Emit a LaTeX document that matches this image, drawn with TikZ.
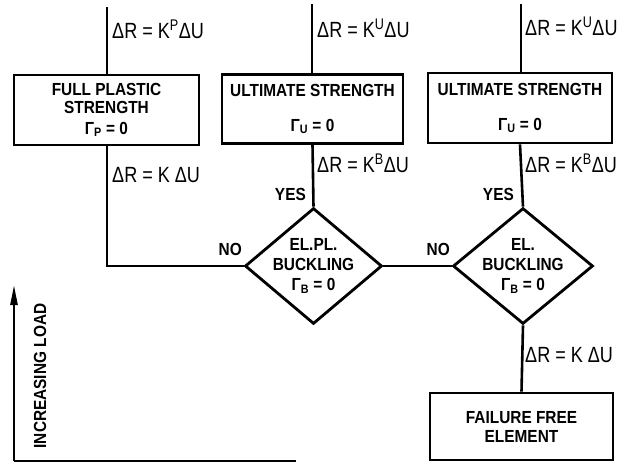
\documentclass[tikz,border=0pt]{standalone}
\usepackage{fontspec}
\setmainfont{Liberation Sans}[FakeStretch=0.88]
\newfontfamily\eqfont{Liberation Sans}[FakeStretch=0.82]
\usetikzlibrary{shapes.geometric,arrows.meta}
\tikzset{
	box/.style={draw, line width=2.8pt, rectangle, align=center, inner sep=0pt, font=\bfseries\fontsize{17.5}{18}\selectfont},
	test/.style={draw, line width=2.8pt, diamond, align=center, inner sep=-5pt, font=\bfseries\fontsize{17.5}{20}\selectfont},
	eqn/.style={anchor=base west, inner sep=0pt, font=\eqfont\fontsize{22}{22}\selectfont},
	ans/.style={anchor=base east, inner sep=0pt, font=\bfseries\fontsize{17.5}{18}\selectfont},
	flow/.style={line width=2.6pt}
}
\begin{document}
\begin{tikzpicture}[x=1pt, y=-1pt]
			\useasboundingbox (0,0) rectangle (629,463);
			\node[box, minimum width=185pt, minimum height=70pt](fps) at (106.5,110){FULL PLASTIC\\STRENGTH\\[3pt]Γ\textsubscript{P} = 0};
			\node[box, minimum width=181pt, minimum height=69pt](us1) at (312.5,109){ULTIMATE STRENGTH\\[17pt]Γ\textsubscript{U} = 0};
			\node[box, minimum width=184pt, minimum height=70pt](us2) at (520,108){ULTIMATE STRENGTH\\[17pt]Γ\textsubscript{U} = 0};
			\node[test, minimum width=137pt, minimum height=114pt](epb) at (313.5,266){EL.PL.\\BUCKLING\\Γ\textsubscript{B} = 0};
			\node[test, minimum width=140pt, minimum height=115pt](eb) at (523,266){EL.\\BUCKLING\\Γ\textsubscript{B} = 0};
			\node[box, minimum width=183pt, minimum height=67pt, font=\bfseries\fontsize{17.5}{19}\selectfont](ffe) at (521.5,426.5){FAILURE FREE\\ELEMENT};
			\coordinate (inA) at (107,7);
			\coordinate (inB) at (312,4);
			\coordinate (inC) at (521,4);
			\draw[flow] (inA) -- (inA |- fps.north);
			\draw[flow] (inB) -- (inB |- us1.north);
			\draw[flow] (inC) -- (inC |- us2.north);
			\draw[flow] (inA |- fps.south) |- (epb.west);
			\draw[flow] (us1.south) -- (epb.north);
			\draw[flow] (epb.east) -- (eb.west);
			\draw[flow] (us2.south) -- (eb.north);
			\draw[flow] (eb.south) -- (ffe.north);
			\node[eqn](eqA) at (112,38){ΔR = K\textsuperscript{P}ΔU};
			\node[eqn](eqB) at (317,37){ΔR = K\textsuperscript{U}ΔU};
			\node[eqn](eqC) at (525,35){ΔR = K\textsuperscript{U}ΔU};
			\node[eqn](eqD) at (112,182){ΔR = K ΔU};
			\node[eqn](eqE) at (317,172){ΔR = K\textsuperscript{B}ΔU};
			\node[eqn](eqF) at (525,172){ΔR = K\textsuperscript{B}ΔU};
			\node[eqn](eqG) at (525,362){ΔR = K ΔU};
			\node[ans](yesB) at (306,200){YES};
			\node[ans](yesC) at (514,200){YES};
			\node[ans](noB) at (242,255){NO};
			\node[ans](noC) at (450,255){NO};
			\coordinate (ax0) at (14,461);
			\coordinate (axT) at (14,285);
			\coordinate (axR) at (296,461);
			\draw[line width=2.4pt, -{Triangle[length=20pt,width=7pt]}] (ax0) -- (axT);
			\draw[line width=2.4pt] (ax0) -- (axR);
			\node[rotate=90, inner sep=0pt, font=\bfseries\fontsize{17.5}{18}\selectfont](load) at (40,376){INCREASING LOAD};
\end{tikzpicture}
\end{document}
